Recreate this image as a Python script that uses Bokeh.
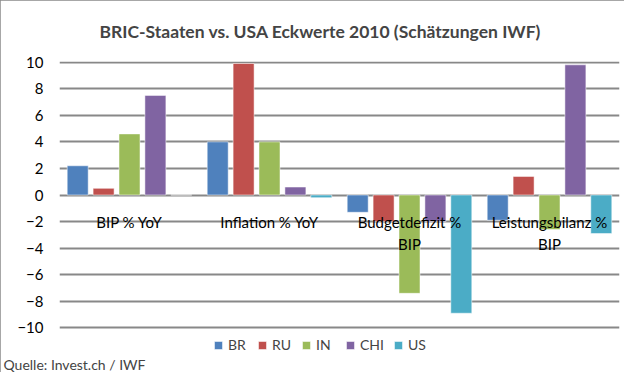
from bokeh.plotting import figure
from bokeh.models import (ColumnDataSource, FactorRange, FixedTicker, Legend,
                          LegendItem, Title)
from bokeh.transform import dodge
from bokeh.core.properties import value
from bokeh.embed import file_html
from bokeh.resources import INLINE

# ---- data ----
categories = ["BIP % YoY", "Inflation % YoY", "Budgetdefizit % BIP", "Leistungsbilanz % BIP"]
category_labels = ["BIP % YoY", "Inflation % YoY", "Budgetdefizit %\nBIP", "Leistungsbilanz %\nBIP"]
countries = ["BR", "RU", "IN", "CHI", "US"]
br = [2.2, 4.0, -1.3, -1.9]
ru = [0.5, 9.9, -2.0, 1.4]
india = [4.6, 4.0, -7.4, -2.6]
chi = [7.5, 0.6, -2.0, 9.8]
us = [0.0, -0.2, -8.9, -2.9]
yticks = [-10, -8, -6, -4, -2, 0, 2, 4, 6, 8, 10]

colors = ["#4F81BD", "#C0504D", "#9BBB59", "#8064A2", "#4BACC6"]
FONT = "Lato"

source = ColumnDataSource(dict(cat=categories, label=category_labels,
                               BR=br, RU=ru, IN=india, CHI=chi, US=us))

# the frame reaches below the -10 line so that the legend can sit inside it
p = figure(width=624, height=372, output_backend="svg", toolbar_location=None,
           x_range=FactorRange(factors=categories, range_padding=0),
           y_range=(-11.93, 10.05),
           min_border_left=59, min_border_right=5, min_border_top=60,
           min_border_bottom=19)
p.outline_line_color = None
p.background_fill_color = "white"
p.border_fill_color = "white"
p.styles = {"outline": "1px solid #8a8a8a", "outline-offset": "-1px"}

# title
p.title.text = "BRIC-Staaten vs. USA Eckwerte 2010 (Schätzungen IWF)"
p.title.align = "left"
p.title.offset = 40
p.title.vertical_align = "middle"
p.title.text_font = FONT
p.title.text_font_size = "17.5px"
p.title.text_font_style = "bold"
p.title.standoff = 38

# bars
step = 0.185
width = 0.15
renderers = []
for i, (c, col) in enumerate(zip(countries, colors)):
    off = (i - 2) * step
    r = p.vbar(x=dodge("cat", off, range=p.x_range), top=c, bottom=0,
               width=width, source=source, fill_color=col,
               line_color="white", line_alpha=0.5, line_width=1)
    renderers.append(r)

# category labels next to the zero line
p.text(x="cat", y=0, text="label", source=source, text_font=value(FONT),
       text_font_size="15px", text_align="center", text_baseline="top",
       y_offset=18, text_line_height=1.2, text_color="black")

# axes
p.xaxis.visible = False
p.yaxis.ticker = FixedTicker(ticks=yticks)
p.yaxis.axis_line_color = None
p.yaxis.major_tick_line_color = None
p.yaxis.minor_tick_line_color = None
p.yaxis.major_tick_in = 0
p.yaxis.major_tick_out = 0
p.yaxis.major_label_standoff = 16
p.yaxis.major_label_text_font = FONT
p.yaxis.major_label_text_font_size = "15px"
p.yaxis.major_label_text_color = "black"

# grid
p.xgrid.grid_line_color = None
p.ygrid.ticker = FixedTicker(ticks=yticks)
p.ygrid.grid_line_color = "#888888"
p.ygrid.grid_line_width = 2

# legend (bottom strip of the frame, below the -10 line)
legend = Legend(items=[LegendItem(label=c, renderers=[r]) for c, r in zip(countries, renderers)],
                orientation="horizontal", location=(154, 0),
                glyph_width=10, glyph_height=10, label_standoff=5, spacing=9,
                padding=0, margin=0, label_height=14,
                label_text_font=FONT, label_text_font_size="14px",
                border_line_color=None, background_fill_alpha=0)
p.add_layout(legend)

# source note
note = Title(text="Quelle: Invest.ch / IWF", align="left", offset=-56,
             text_font=FONT, text_font_size="14px", text_font_style="normal",
             standoff=0)
p.add_layout(note, "below")

open("out.html", "w").write(file_html(p, INLINE))
